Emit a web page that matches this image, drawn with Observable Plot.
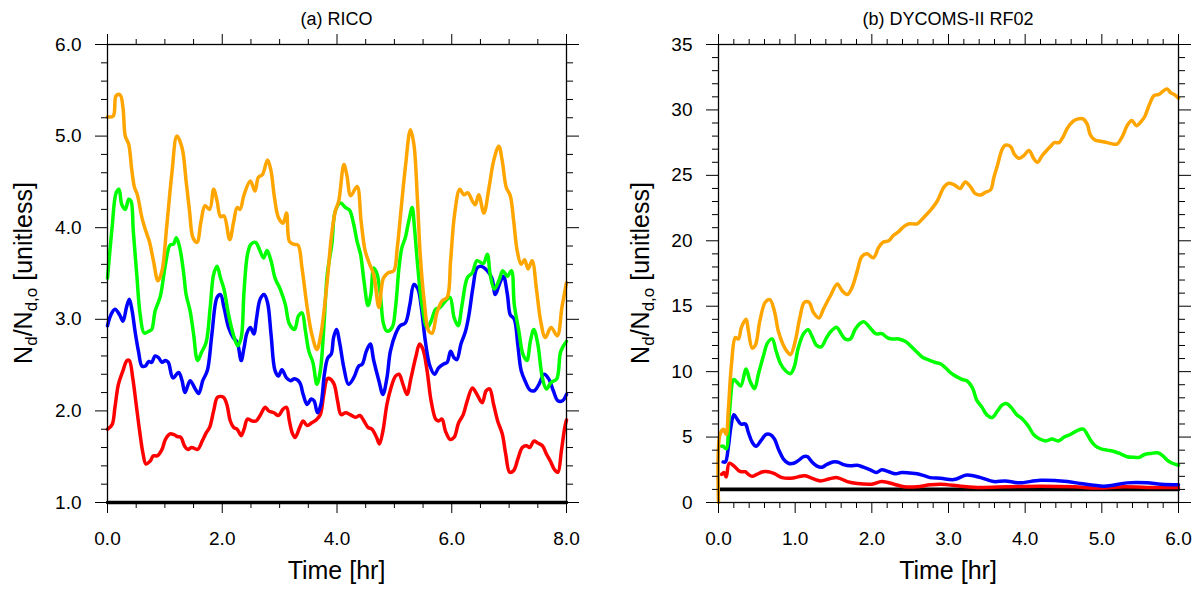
<!DOCTYPE html>
<html>
<head>
<meta charset="utf-8">
<script src="https://cdn.jsdelivr.net/npm/d3@7"></script>
<script src="https://cdn.jsdelivr.net/npm/@observablehq/plot@0.6"></script>
<style>
  html, body { margin: 0; padding: 0; background: white; }
  #wrap { display: flex; width: 1197px; height: 591px; }
  svg text { font-family: "Liberation Sans", Arial, Helvetica, sans-serif; }
</style>
</head>
<body>
<div id="wrap"></div>
<script>
// ---------------- DATA ----------------
// (a) RICO  [time hr, Nd/Nd,o]
const ricoOrange = [[0,5.21],[0.10,5.22],[0.15,5.44],[0.22,5.45],[0.27,5.31],[0.31,5.0],[0.37,4.91],[0.42,4.65],[0.47,4.44],[0.52,4.36],[0.60,4.11],[0.67,3.96],[0.73,3.85],[0.80,3.64],[0.88,3.42],[0.95,3.53],[1.03,4.0],[1.12,4.58],[1.21,5.0],[1.30,4.87],[1.37,4.51],[1.43,4.18],[1.49,3.89],[1.56,3.84],[1.63,4.07],[1.70,4.24],[1.78,4.2],[1.85,4.42],[1.91,4.29],[1.97,4.12],[2.03,4.13],[2.13,3.87],[2.20,4.07],[2.26,4.22],[2.31,4.2],[2.38,4.36],[2.49,4.51],[2.57,4.4],[2.63,4.55],[2.70,4.58],[2.79,4.74],[2.85,4.62],[2.91,4.33],[2.98,4.11],[3.06,4.05],[3.12,4.16],[3.17,3.85],[3.24,3.82],[3.32,3.81],[3.39,3.56],[3.48,3.13],[3.56,2.84],[3.65,2.67],[3.72,2.84],[3.83,3.42],[3.90,3.89],[3.97,4.18],[4.03,4.29],[4.12,4.69],[4.17,4.58],[4.24,4.35],[4.35,4.45],[4.42,4.07],[4.49,3.75],[4.57,3.6],[4.64,3.49],[4.73,3.13],[4.81,3.45],[4.90,3.51],[4.99,3.53],[5.05,3.78],[5.12,4.22],[5.19,4.65],[5.28,5.07],[5.34,4.91],[5.40,4.33],[5.45,3.71],[5.52,3.2],[5.60,2.87],[5.66,2.85],[5.74,3.07],[5.83,3.2],[5.92,3.24],[5.98,3.64],[6.05,4.15],[6.14,4.42],[6.21,4.36],[6.28,4.38],[6.36,4.29],[6.41,4.25],[6.47,4.36],[6.56,4.16],[6.65,4.44],[6.73,4.73],[6.82,4.89],[6.88,4.73],[6.95,4.44],[7.02,4.35],[7.08,4.07],[7.14,3.75],[7.21,3.6],[7.27,3.65],[7.33,3.55],[7.40,3.64],[7.48,3.31],[7.55,2.98],[7.63,2.8],[7.73,2.91],[7.84,2.82],[7.92,3.13],[8.0,3.4]];
const ricoGreen = [[0,3.45],[0.08,4.0],[0.15,4.38],[0.20,4.42],[0.25,4.25],[0.31,4.2],[0.37,4.31],[0.41,4.29],[0.45,3.96],[0.51,3.49],[0.57,3.05],[0.64,2.85],[0.72,2.87],[0.77,2.89],[0.83,3.09],[0.92,3.25],[1.01,3.6],[1.09,3.81],[1.15,3.82],[1.20,3.89],[1.26,3.78],[1.33,3.49],[1.37,3.27],[1.44,3.09],[1.50,2.84],[1.57,2.55],[1.64,2.64],[1.72,2.75],[1.79,3.13],[1.85,3.49],[1.91,3.58],[1.97,3.45],[2.03,3.33],[2.11,3.05],[2.19,2.84],[2.27,2.71],[2.33,2.8],[2.38,3.31],[2.44,3.71],[2.50,3.82],[2.58,3.84],[2.65,3.76],[2.72,3.67],[2.78,3.75],[2.85,3.64],[2.92,3.45],[3.01,3.33],[3.10,3.16],[3.17,2.95],[3.26,2.89],[3.33,3.04],[3.39,3.07],[3.45,2.87],[3.51,2.65],[3.58,2.53],[3.65,2.29],[3.71,2.44],[3.77,2.91],[3.83,3.49],[3.91,3.82],[3.97,4.18],[4.06,4.27],[4.15,4.22],[4.22,4.19],[4.29,4.04],[4.35,3.85],[4.41,3.71],[4.47,3.42],[4.54,3.15],[4.59,3.27],[4.64,3.56],[4.70,3.49],[4.76,3.24],[4.81,2.95],[4.87,2.87],[4.96,2.91],[5.02,3.13],[5.08,3.56],[5.13,3.78],[5.19,3.89],[5.25,4.07],[5.31,4.22],[5.35,4.0],[5.41,3.56],[5.48,3.16],[5.57,2.91],[5.64,2.98],[5.72,3.11],[5.80,3.13],[5.89,3.2],[5.97,3.24],[6.04,3.02],[6.11,2.93],[6.18,3.16],[6.27,3.45],[6.36,3.51],[6.44,3.64],[6.55,3.61],[6.62,3.71],[6.67,3.49],[6.74,3.33],[6.82,3.42],[6.89,3.53],[6.97,3.47],[7.04,3.53],[7.09,3.16],[7.17,2.87],[7.24,2.62],[7.31,2.55],[7.37,2.76],[7.43,2.89],[7.50,2.73],[7.58,2.36],[7.65,2.24],[7.73,2.31],[7.83,2.35],[7.90,2.65],[8.0,2.76]];
const ricoBlue = [[0,2.93],[0.06,3.05],[0.13,3.11],[0.21,3.05],[0.27,2.98],[0.33,3.13],[0.38,3.22],[0.43,3.09],[0.48,2.87],[0.54,2.65],[0.60,2.49],[0.66,2.49],[0.72,2.54],[0.77,2.53],[0.83,2.6],[0.89,2.58],[0.95,2.53],[1.01,2.55],[1.06,2.53],[1.14,2.36],[1.24,2.42],[1.30,2.33],[1.35,2.2],[1.44,2.33],[1.52,2.25],[1.59,2.19],[1.66,2.33],[1.74,2.44],[1.82,2.84],[1.91,3.24],[1.97,3.27],[2.03,3.13],[2.11,2.91],[2.19,2.8],[2.26,2.75],[2.33,2.55],[2.38,2.69],[2.43,2.85],[2.49,2.91],[2.55,2.84],[2.60,3.02],[2.66,3.22],[2.73,3.27],[2.79,3.18],[2.85,2.84],[2.92,2.44],[2.98,2.38],[3.04,2.45],[3.12,2.36],[3.19,2.33],[3.26,2.35],[3.35,2.31],[3.41,2.18],[3.48,2.07],[3.55,2.13],[3.60,2.11],[3.66,1.98],[3.72,2.07],[3.78,2.4],[3.84,2.58],[3.90,2.62],[3.94,2.8],[3.99,2.89],[4.05,2.73],[4.12,2.47],[4.20,2.29],[4.29,2.36],[4.38,2.49],[4.44,2.51],[4.51,2.65],[4.58,2.73],[4.64,2.55],[4.73,2.33],[4.80,2.18],[4.87,2.36],[4.93,2.65],[5.02,2.84],[5.10,2.93],[5.19,2.96],[5.27,3.16],[5.34,3.38],[5.41,3.33],[5.47,3.13],[5.54,2.76],[5.62,2.49],[5.70,2.4],[5.77,2.47],[5.85,2.51],[5.92,2.53],[5.98,2.65],[6.04,2.58],[6.09,2.56],[6.16,2.73],[6.24,2.87],[6.30,3.05],[6.37,3.35],[6.44,3.56],[6.51,3.58],[6.62,3.53],[6.70,3.45],[6.76,3.27],[6.84,3.4],[6.90,3.47],[6.97,3.27],[7.02,3.05],[7.09,3.0],[7.15,2.73],[7.21,2.44],[7.29,2.31],[7.36,2.23],[7.44,2.22],[7.52,2.29],[7.61,2.4],[7.69,2.35],[7.77,2.22],[7.85,2.11],[7.93,2.11],[8.0,2.18]];
const ricoRed = [[0,1.8],[0.08,1.85],[0.13,2.04],[0.19,2.29],[0.27,2.44],[0.34,2.55],[0.38,2.55],[0.44,2.36],[0.50,2.07],[0.56,1.78],[0.62,1.53],[0.67,1.42],[0.74,1.45],[0.80,1.51],[0.87,1.51],[0.95,1.58],[1.01,1.69],[1.09,1.75],[1.16,1.74],[1.22,1.72],[1.28,1.71],[1.34,1.62],[1.40,1.58],[1.47,1.6],[1.57,1.58],[1.65,1.67],[1.72,1.76],[1.78,1.82],[1.85,2.0],[1.92,2.15],[2.02,2.15],[2.08,2.07],[2.14,1.89],[2.20,1.82],[2.26,1.8],[2.33,1.73],[2.38,1.8],[2.44,1.91],[2.52,1.89],[2.59,1.89],[2.66,1.95],[2.75,2.04],[2.81,2.0],[2.90,1.98],[2.98,1.95],[3.06,2.02],[3.12,2.04],[3.17,1.89],[3.22,1.76],[3.27,1.71],[3.35,1.82],[3.41,1.89],[3.48,1.84],[3.56,1.87],[3.65,1.91],[3.71,1.96],[3.77,2.18],[3.83,2.35],[3.88,2.35],[3.95,2.29],[4.01,2.11],[4.07,1.96],[4.15,1.98],[4.23,1.96],[4.32,1.93],[4.40,1.95],[4.47,1.89],[4.54,1.82],[4.61,1.8],[4.69,1.71],[4.74,1.64],[4.80,1.78],[4.87,2.07],[4.94,2.25],[5.02,2.38],[5.08,2.4],[5.15,2.29],[5.22,2.18],[5.29,2.36],[5.37,2.58],[5.44,2.73],[5.50,2.67],[5.57,2.44],[5.64,2.11],[5.72,1.91],[5.77,1.89],[5.83,1.91],[5.89,1.78],[5.97,1.69],[6.04,1.71],[6.12,1.87],[6.20,1.96],[6.27,2.11],[6.36,2.25],[6.44,2.18],[6.53,2.09],[6.60,2.22],[6.66,2.24],[6.73,2.07],[6.80,1.89],[6.88,1.75],[6.94,1.53],[7.01,1.33],[7.08,1.35],[7.15,1.47],[7.23,1.6],[7.30,1.62],[7.36,1.6],[7.43,1.67],[7.50,1.65],[7.58,1.62],[7.65,1.53],[7.72,1.45],[7.79,1.36],[7.85,1.33],[7.91,1.56],[7.97,1.82],[8.0,1.9]];
const ricoBlack = [[0,1],[8,1]];

// (b) DYCOMS-II RF02
const dyOrange = [[0,0],[0.02,5.2],[0.065,5.6],[0.10,5.2],[0.13,7.25],[0.17,10.6],[0.22,12.6],[0.26,12.5],[0.30,13.4],[0.36,14.0],[0.39,13.1],[0.44,11.8],[0.48,12.0],[0.54,13.9],[0.61,15.3],[0.67,15.5],[0.73,14.6],[0.78,13.1],[0.84,12.1],[0.90,11.5],[0.94,11.3],[1.0,12.3],[1.06,14.1],[1.12,15.3],[1.18,15.3],[1.24,14.5],[1.31,14.1],[1.37,14.8],[1.46,15.8],[1.55,16.7],[1.61,16.2],[1.68,15.9],[1.74,16.4],[1.81,17.7],[1.87,18.8],[1.94,19.0],[2.02,18.7],[2.09,19.5],[2.15,19.9],[2.22,20.0],[2.28,20.4],[2.35,20.7],[2.42,21.1],[2.49,21.3],[2.59,21.3],[2.68,21.8],[2.76,22.3],[2.85,23.0],[2.94,24.1],[3.00,24.4],[3.07,24.3],[3.15,24.0],[3.22,24.5],[3.29,24.1],[3.35,23.6],[3.42,23.5],[3.48,23.7],[3.55,23.9],[3.59,24.8],[3.64,25.8],[3.70,27.0],[3.74,27.3],[3.81,27.2],[3.86,26.6],[3.92,26.3],[3.98,26.5],[4.05,26.9],[4.11,26.3],[4.16,26.0],[4.22,26.5],[4.28,26.9],[4.33,27.2],[4.38,27.5],[4.44,27.5],[4.50,28.0],[4.55,28.6],[4.62,29.1],[4.68,29.3],[4.76,29.3],[4.81,28.9],[4.85,28.1],[4.91,27.7],[4.99,27.6],[5.07,27.5],[5.14,27.4],[5.20,27.4],[5.27,28.0],[5.33,28.8],[5.39,29.2],[5.45,28.8],[5.51,29.1],[5.56,29.5],[5.62,30.4],[5.68,31.1],[5.75,31.2],[5.79,31.4],[5.85,31.6],[5.90,31.3],[5.94,31.2],[6.0,30.9]];
const dyGreen = [[0.04,4.3],[0.06,4.3],[0.10,4.1],[0.14,6.7],[0.20,9.4],[0.24,9.2],[0.29,8.9],[0.36,10.2],[0.41,9.3],[0.47,8.7],[0.52,9.8],[0.59,11.3],[0.64,12.2],[0.70,12.5],[0.75,11.6],[0.81,10.6],[0.87,10.1],[0.94,9.85],[0.99,10.4],[1.04,11.8],[1.11,12.9],[1.17,13.2],[1.22,12.7],[1.28,12.0],[1.34,11.9],[1.41,12.6],[1.47,13.1],[1.54,13.4],[1.60,12.9],[1.65,12.5],[1.72,12.5],[1.78,13.2],[1.85,13.7],[1.90,13.8],[1.97,13.4],[2.05,12.9],[2.13,12.9],[2.20,12.6],[2.26,12.5],[2.35,12.5],[2.44,12.3],[2.50,12.0],[2.57,11.6],[2.66,11.1],[2.74,10.9],[2.83,10.7],[2.895,10.6],[2.96,10.3],[3.03,9.9],[3.11,9.6],[3.18,9.4],[3.24,9.3],[3.31,8.8],[3.37,7.8],[3.44,7.25],[3.50,6.7],[3.57,6.5],[3.64,7.0],[3.70,7.45],[3.76,7.55],[3.82,7.25],[3.89,6.7],[3.96,6.4],[4.04,5.85],[4.11,5.2],[4.19,4.85],[4.27,4.7],[4.35,4.85],[4.43,4.7],[4.51,5.0],[4.59,5.2],[4.68,5.5],[4.76,5.6],[4.81,5.2],[4.86,4.7],[4.92,4.3],[4.99,4.1],[5.07,4.0],[5.16,3.9],[5.25,3.7],[5.33,3.5],[5.42,3.45],[5.49,3.45],[5.55,3.65],[5.64,3.75],[5.73,3.8],[5.80,3.55],[5.86,3.2],[5.92,3.0],[6.0,2.85]];
const dyBlue = [[0.06,3.1],[0.09,3.1],[0.13,4.3],[0.16,5.7],[0.20,6.7],[0.24,6.4],[0.29,6.0],[0.35,6.0],[0.39,5.35],[0.44,4.6],[0.49,4.3],[0.55,4.7],[0.62,5.2],[0.67,5.2],[0.73,4.85],[0.78,4.1],[0.85,3.3],[0.91,3.0],[0.98,3.0],[1.04,3.2],[1.11,3.5],[1.16,3.5],[1.22,3.1],[1.28,2.8],[1.35,2.7],[1.41,2.9],[1.49,3.1],[1.55,3.1],[1.63,2.9],[1.72,2.8],[1.81,2.85],[1.89,2.7],[1.98,2.5],[2.06,2.3],[2.13,2.5],[2.22,2.35],[2.31,2.2],[2.39,2.3],[2.50,2.25],[2.59,2.2],[2.68,2.05],[2.76,1.9],[2.90,1.85],[3.07,1.75],[3.24,2.1],[3.42,1.9],[3.59,1.6],[3.74,1.65],[3.92,1.5],[4.2,1.7],[4.55,1.6],[4.72,1.45],[5.03,1.25],[5.33,1.5],[5.59,1.5],[5.77,1.4],[6.0,1.35]];
const dyRed = [[0.04,2.15],[0.07,2.3],[0.10,1.95],[0.14,3.0],[0.20,2.8],[0.26,2.45],[0.30,2.35],[0.35,2.35],[0.39,2.15],[0.44,2.0],[0.50,2.15],[0.58,2.35],[0.65,2.35],[0.73,2.2],[0.83,1.9],[0.94,1.85],[1.07,2.0],[1.13,2.05],[1.24,1.8],[1.33,1.65],[1.44,1.8],[1.55,1.9],[1.68,1.6],[1.81,1.45],[2.0,1.4],[2.13,1.6],[2.29,1.4],[2.42,1.2],[2.59,1.2],[2.76,1.35],[2.90,1.4],[3.16,1.25],[3.42,1.15],[3.77,1.2],[4.2,1.25],[4.64,1.2],[4.94,1.1],[5.29,1.2],[5.59,1.15],[6.0,1.15]];
const dyBlack = [[0.02,1],[6,1]];

// tick values / labels
const ricoXTicks = [0, 2, 4, 6, 8];
const ricoYTicks = [1, 2, 3, 4, 5, 6];
const dyXTicks = [0, 1, 2, 3, 4, 5, 6];
const dyYTicks = [0, 5, 10, 15, 20, 25, 30, 35];
const titles = ["(a) RICO", "(b) DYCOMS-II RF02"];
const xLabel = "Time [hr]";

const colors = {orange: "#FFA500", green: "#00FF00", blue: "#0000FF", red: "#FF0000", black: "#000000"};

// ---------------- DRAW ----------------
const H = 591, MT = 44, MB = 89;

function panel(o) {
  const lineOpts = (stroke) => ({x: d => d[0], y: d => d[1], stroke, strokeWidth: 3.5, curve: "catmull-rom", strokeLinejoin: "round", strokeLinecap: "round"});
  const blank = () => "";
  const svg = Plot.plot({
    width: o.width, height: H,
    marginLeft: o.ml, marginRight: o.mr, marginTop: MT, marginBottom: MB,
    style: {fontFamily: "Liberation Sans, Arial, sans-serif", fontSize: "19px", color: "black", background: "white", overflow: "visible"},
    x: {domain: o.xDomain},
    y: {domain: o.yDomain},
    marks: [
      Plot.line(o.black, {...lineOpts(colors.black), strokeWidth: 3.6}),
      Plot.line(o.red, lineOpts(colors.red)),
      Plot.line(o.blue, lineOpts(colors.blue)),
      Plot.line(o.green, lineOpts(colors.green)),
      Plot.line(o.orange, lineOpts(colors.orange)),
      Plot.frame({stroke: "black", strokeWidth: 1.3}),
      // bottom
      Plot.axisX({anchor: "bottom", ticks: o.xMajor, tickSize: 11, tickPadding: 18, tickFormat: d3.format(".1f"), label: null, fontSize: 19}),
      Plot.axisX({anchor: "bottom", ticks: o.xMinor, tickSize: 6, tickFormat: blank, label: null}),
      // top
      Plot.axisX({anchor: "top", ticks: o.xMajor, tickSize: 11, tickFormat: blank, label: null}),
      Plot.axisX({anchor: "top", ticks: o.xMinor, tickSize: 6, tickFormat: blank, label: null}),
      // left
      Plot.axisY({anchor: "left", ticks: o.yMajor, tickSize: 12, tickPadding: 14, tickFormat: o.yFmt, label: null, fontSize: 19}),
      Plot.axisY({anchor: "left", ticks: o.yMinor, tickSize: 6, tickFormat: blank, label: null}),
      // right
      Plot.axisY({anchor: "right", ticks: o.yMajor, tickSize: 12, tickFormat: blank, label: null}),
      Plot.axisY({anchor: "right", ticks: o.yMinor, tickSize: 6, tickFormat: blank, label: null})
    ]
  });
  const s = d3.select(svg);
  const cx = o.ml + (o.width - o.ml - o.mr) / 2;
  const cy = MT + (H - MT - MB) / 2;
  s.append("text").attr("x", cx).attr("y", 19).attr("text-anchor", "middle").attr("dy", "0.35em")
    .attr("font-size", 18).attr("fill", "black").text(o.title);
  s.append("text").attr("x", cx).attr("y", 579).attr("text-anchor", "middle")
    .attr("font-size", 25).attr("fill", "black").text(xLabel);
  const yl = s.append("text").attr("transform", `translate(${o.ylx},${cy}) rotate(-90)`)
    .attr("text-anchor", "middle").attr("dy", "0.35em").attr("font-size", 25).attr("fill", "black");
  yl.append("tspan").text("N");
  yl.append("tspan").attr("font-size", 17).attr("dy", 5).text("d");
  yl.append("tspan").attr("dy", -5).text("/N");
  yl.append("tspan").attr("font-size", 17).attr("dy", 5).text("d,o");
  yl.append("tspan").attr("dy", -5).text(" [unitless]");
  return svg;
}

const wrap = document.getElementById("wrap");
wrap.append(panel({
  width: 600, ml: 107, mr: 34, xDomain: [0, 8], yDomain: [1, 6],
  xMajor: ricoXTicks, xMinor: d3.range(0, 8.01, 0.5).filter(v => v % 2 !== 0),
  yMajor: ricoYTicks, yMinor: d3.range(1, 6.001, 0.2).map(v => +v.toFixed(1)).filter(v => !Number.isInteger(v)),
  yFmt: d3.format(".1f"),
  orange: ricoOrange, green: ricoGreen, blue: ricoBlue, red: ricoRed, black: ricoBlack,
  title: titles[0], ylx: 23
}));
wrap.append(panel({
  width: 597, ml: 118, mr: 19, xDomain: [0, 6], yDomain: [0, 35],
  xMajor: dyXTicks, xMinor: d3.range(0, 6.001, 0.2).map(v => +v.toFixed(1)).filter(v => !Number.isInteger(v)),
  yMajor: dyYTicks, yMinor: d3.range(0, 36, 1).filter(v => v % 5 !== 0),
  yFmt: d3.format("d"),
  orange: dyOrange, green: dyGreen, blue: dyBlue, red: dyRed, black: dyBlack,
  title: titles[1], ylx: 40
}));
</script>
</body>
</html>
